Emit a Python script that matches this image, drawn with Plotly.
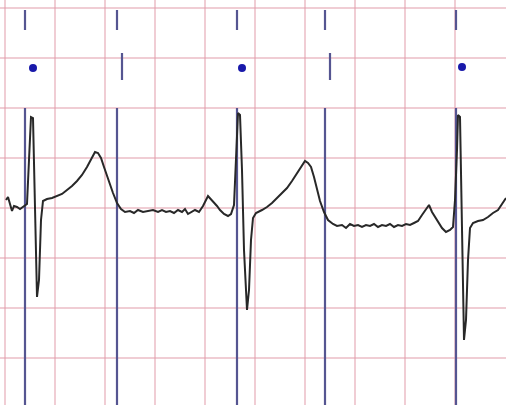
import plotly.graph_objects as go

# ECG trace: time in ms, amplitude in microvolts (grid: 200 ms x 500 uV)
time_ms = [4, 12, 20, 28, 36, 48, 60, 76, 88, 96, 104, 112, 116, 124, 128, 136, 144, 152, 168, 188,
           208, 228, 248, 268, 288, 308, 328, 344, 360, 372, 384, 396, 408, 420, 432, 448, 464, 480, 500, 516,
           532, 552, 572, 592, 612, 628, 644, 660, 676, 692, 708, 720, 732, 744, 760, 776, 792, 812, 824, 836,
           848, 860, 876, 892, 904, 916, 924, 932, 940, 948, 956, 968, 976, 984, 992, 1004, 1028, 1048, 1068, 1088,
           1108, 1128, 1148, 1168, 1188, 1200, 1212, 1224, 1236, 1248, 1260, 1276, 1292, 1312, 1328, 1348, 1364, 1380, 1396, 1412,
           1428, 1444, 1460, 1476, 1492, 1508, 1524, 1540, 1556, 1572, 1588, 1604, 1620, 1636, 1652, 1668, 1684, 1696, 1708, 1720,
           1732, 1748, 1764, 1780, 1792, 1800, 1808, 1812, 1820, 1824, 1828, 1836, 1844, 1852, 1860, 1872, 1892, 1912, 1932, 1952,
           1972, 1988, 2004]
amp_uv = [80, 110, 40, -30, 20, 10, -10, 20, 40, 480, 910, 900, 480, -420, -890, -720, -120, 70, 90, 100,
          120, 140, 180, 220, 270, 330, 410, 480, 560, 550, 500, 410, 320, 240, 150, 50, -10, -40, -30, -50,
          -20, -40, -30, -20, -40, -20, -40, -30, -50, -20, -40, -10, -60, -40, -20, -40, 20, 120, 90, 50,
          20, -20, -60, -80, -60, 30, 480, 950, 930, 380, -420, -1020, -820, -320, -100, -50, -20, 10, 50, 100,
          150, 200, 270, 350, 430, 470, 450, 410, 310, 180, 70, -40, -120, -160, -180, -170, -200, -160, -180, -170,
          -190, -170, -180, -160, -190, -170, -180, -160, -190, -170, -180, -160, -170, -150, -130, -70, -10, 30, -40, -90,
          -140, -200, -240, -220, -190, 80, 580, 930, 910, 380, -520, -1320, -1120, -520, -200, -150, -130, -120, -90, -50,
          -20, 40, 100]

# Beat annotation markers
beat_line_ms = [80, 448, 928, 1280, 1804]
mid_mark_ms = [468, 1300]
dot_ms = [112, 948, 1828]
dot_uv = [1400, 1400, 1410]

X_RANGE = [-20, 2004]
Y_RANGE = [-1970, 2080]
LOW_SPAN = [1000, -2100]
TOP_SPAN = [1980, 1780]
MID_SPAN = [1550, 1280]


def segs(xs, span):
    sx, sy = [], []
    for x in xs:
        sx += [x, x, None]
        sy += [span[0], span[1], None]
    return sx, sy


fig = go.Figure()
blue = "rgb(85,85,145)"
for xs, span in [(beat_line_ms, LOW_SPAN), (beat_line_ms, TOP_SPAN), (mid_mark_ms, MID_SPAN)]:
    sx, sy = segs(xs, span)
    fig.add_trace(go.Scatter(x=sx, y=sy, mode="lines", line=dict(color=blue, width=2.2),
                             hoverinfo="skip", showlegend=False))

fig.add_trace(go.Scatter(x=dot_ms, y=dot_uv, mode="markers",
                         marker=dict(color="rgb(25,25,170)", size=8, symbol="circle"),
                         showlegend=False))

fig.add_trace(go.Scatter(x=time_ms, y=amp_uv, mode="lines",
                         line=dict(color="rgb(40,40,40)", width=2),
                         showlegend=False))

grid = "rgba(225,155,170,0.5)"
fig.update_xaxes(range=X_RANGE, tick0=0, dtick=200, showgrid=True, gridcolor=grid, gridwidth=2,
                 showticklabels=False, zeroline=False, showline=False, ticks="")
fig.update_yaxes(range=Y_RANGE, tick0=0, dtick=500, showgrid=True, gridcolor=grid, gridwidth=2,
                 showticklabels=False, zeroline=False, showline=False, ticks="")
fig.update_layout(width=506, height=405, margin=dict(l=0, r=0, t=0, b=0),
                  plot_bgcolor="white", paper_bgcolor="white")

fig.write_html("out.html", config={"displayModeBar": False},
               post_script="document.body.style.margin='0';document.body.style.overflow='hidden';")
